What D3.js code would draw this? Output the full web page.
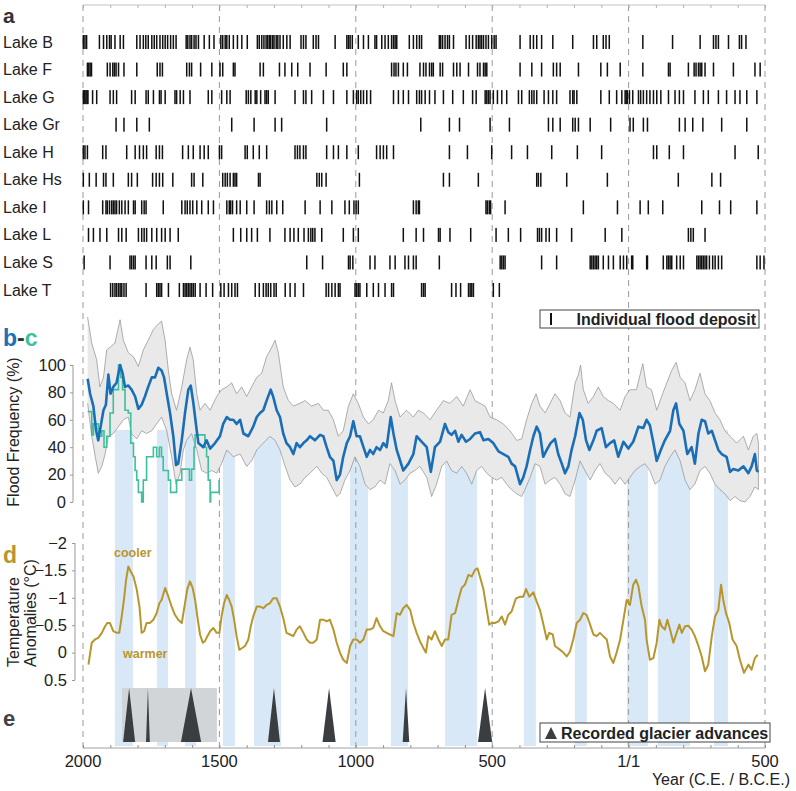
<!DOCTYPE html>
<html>
<head>
<meta charset="utf-8">
<script src="https://cdn.jsdelivr.net/npm/d3@7"></script>
<style>
  body { margin: 0; background: #fff; }
  svg { font-family: "Liberation Sans", Arial, sans-serif; }
</style>
</head>
<body>
<svg></svg>
<script>
// ---- data ----
var lakes = ["Lake B", "Lake F", "Lake G", "Lake Gr", "Lake H", "Lake Hs", "Lake I", "Lake L", "Lake S", "Lake T"];

var lakeB = [1999,1993,1987,1940,1925,1913,1903,1897,1883,1864,1852,1803,1791,1779,1770,1761,1748,1739,1730,1718,1708,1699,1690,1679,1669,1659,1622,1616,1608,1602,1593,1586,1577,1556,1537,1520,1495,1488,1479,1473,1464,1449,1434,1418,1398,1361,1354,1345,1337,1329,1323,1317,1312,1305,1300,1292,1286,1278,1266,1253,1241,1201,1192,1183,1156,1146,1137,1076,1033,1027,1021,1013,991,972,954,930,924,905,893,881,869,862,856,850,804,789,777,767,759,694,689,682,673,664,657,642,596,584,572,559,551,545,539,532,523,514,502,493,486,398,361,349,337,319,278,205,129,117,93,83,71,-52,-161,-262,-311,-320,-329,-366,-406,-414,-430];
var lakeF = [1984,1979,1974,1969,1911,1901,1891,1885,1879,1870,1850,1803,1728,1718,1709,1620,1610,1602,1569,1528,1498,1488,1449,1443,1351,1339,1280,1260,1235,1213,1168,1109,1046,1033,869,860,853,844,826,811,765,752,743,730,722,716,691,682,642,630,618,587,554,545,532,526,520,398,355,319,276,264,251,184,102,78,31,-52,-146,-152,-219,-240,-247,-256,-262,-268,-280,-311,-384,-463,-482];
var lakeG = [1999,1996,1993,1989,1985,1982,1965,1950,1901,1889,1877,1822,1809,1769,1761,1742,1720,1714,1699,1663,1657,1644,1632,1608,1541,1528,1492,1473,1461,1402,1394,1385,1369,1363,1349,1333,1327,1321,1296,1223,1192,1183,1162,1119,1082,1033,1009,997,991,982,972,960,946,862,844,826,807,777,767,759,746,730,710,679,645,606,572,559,526,520,514,508,496,481,465,447,404,392,364,355,347,337,310,294,278,264,215,205,200,190,102,71,44,25,13,9,5,-3,-15,-36,-44,-54,-66,-78,-91,-103,-118,-146,-170,-186,-201,-243,-274,-292,-329,-359,-390,-408,-433,-470];
var lakeGr = [1879,1850,1803,1757,1455,1373,1296,1272,1107,762,657,620,508,437,294,278,251,205,196,184,141,66,-5,-17,-54,-69,-186,-207,-235,-272,-341,-433];
var lakeH = [1999,1993,1984,1928,1916,1840,1809,1793,1779,1767,1732,1720,1709,1635,1614,1596,1571,1556,1541,1500,1492,1406,1398,1376,1354,1327,1223,1214,1205,1192,1183,1107,1082,1064,1033,991,924,911,899,887,862,657,591,502,429,371,282,188,99,-91,-103,-149,-201,-390,-475];
var lakeHs = [1999,1977,1952,1925,1916,1889,1834,1822,1801,1745,1732,1720,1708,1671,1602,1593,1561,1488,1479,1471,1461,1449,1443,1437,1357,1351,1143,1134,1125,1109,987,679,657,551,337,331,322,227,78,-182,-305,-337];
var lakeI = [1999,1980,1928,1916,1911,1903,1895,1889,1883,1877,1867,1858,1846,1834,1815,1809,1785,1776,1769,1706,1638,1626,1618,1608,1598,1583,1565,1541,1522,1473,1464,1459,1452,1437,1424,1400,1373,1327,1317,1308,1290,1268,1186,1131,1088,1040,1024,1007,999,991,789,779,771,767,523,518,511,506,453,166,41,-42,-72,-125,-268,-333,-374,-470];
var lakeL = [1980,1962,1938,1913,1870,1858,1842,1797,1785,1776,1767,1748,1730,1712,1699,1681,1651,1449,1422,1400,1382,1361,1315,1260,1241,1227,1211,1190,1174,1165,1158,1150,1125,1046,1009,991,826,779,752,697,691,655,579,486,441,396,334,327,319,303,291,264,209,86,25,-219,-228,-237,-280];
var lakeS = [1996,1901,1828,1822,1815,1809,1769,1748,1732,1691,1681,1605,1180,1122,1027,1021,1011,948,930,875,856,820,807,789,779,694,471,465,459,453,319,264,141,135,129,123,117,111,93,74,56,31,19,7,-11,-15,-66,-69,-127,-140,-146,-152,-158,-176,-189,-201,-250,-256,-262,-268,-274,-280,-286,-296,-308,-317,-329,-341,-470,-482,-496];
var lakeT = [1899,1891,1883,1877,1870,1864,1858,1850,1842,1769,1730,1724,1718,1712,1687,1647,1632,1626,1620,1614,1608,1602,1596,1589,1571,1549,1525,1495,1483,1467,1455,1443,1434,1369,1354,1339,1329,1321,1312,1300,1292,1259,1241,1223,1192,1109,1100,1088,1076,1064,1058,1003,997,991,985,960,936,917,893,869,862,759,752,746,649,633,616,587,581,575,569,496,474];
var lakeYears = [lakeB, lakeF, lakeG, lakeGr, lakeH, lakeHs, lakeI, lakeL, lakeS, lakeT];

// flood frequency (%) : [year, value]
var floodMean = [[1983,90],[1974,79],[1962,70],[1952,52],[1944,45],[1938,52],[1925,67],[1916,71],[1907,93],[1899,79],[1889,84],[1877,87],[1864,100],[1855,94],[1846,84],[1834,85],[1822,82],[1809,77],[1797,68],[1785,71],[1773,77],[1761,84],[1748,91],[1736,91],[1724,98],[1712,96],[1703,91],[1693,79],[1681,65],[1669,48],[1659,27],[1651,28],[1638,45],[1626,65],[1614,82],[1605,85],[1596,73],[1583,52],[1577,43],[1559,40],[1547,45],[1534,39],[1516,43],[1498,48],[1486,57],[1473,62],[1461,60],[1449,60],[1437,57],[1424,60],[1412,50],[1394,48],[1376,55],[1363,62],[1351,65],[1339,67],[1327,74],[1312,82],[1303,77],[1290,67],[1278,62],[1266,50],[1254,43],[1241,40],[1229,35],[1217,43],[1205,40],[1192,43],[1180,45],[1168,48],[1150,45],[1131,49],[1119,48],[1107,40],[1095,33],[1082,30],[1070,16],[1058,20],[1046,33],[1033,43],[1021,48],[1009,59],[997,48],[985,48],[972,40],[960,33],[948,38],[936,35],[924,40],[911,38],[899,43],[887,40],[872,62],[862,50],[850,38],[826,23],[807,28],[789,35],[777,48],[759,44],[740,40],[725,22],[710,40],[691,44],[673,57],[661,51],[649,49],[636,52],[624,44],[612,49],[596,44],[581,46],[563,50],[545,51],[532,45],[514,46],[496,43],[477,37],[459,35],[441,33],[429,28],[416,26],[398,13],[386,18],[374,26],[361,38],[349,48],[337,55],[325,50],[313,33],[300,38],[286,43],[270,46],[258,35],[245,28],[233,21],[221,26],[209,38],[196,48],[180,65],[168,60],[156,45],[144,38],[129,45],[117,52],[99,54],[83,40],[68,43],[53,45],[38,33],[19,44],[1,39],[-17,44],[-36,55],[-54,54],[-66,60],[-78,56],[-91,43],[-103,30],[-118,38],[-133,45],[-152,52],[-164,67],[-174,72],[-186,57],[-201,52],[-215,35],[-231,40],[-243,28],[-256,50],[-268,60],[-280,59],[-292,50],[-305,52],[-317,45],[-329,38],[-341,35],[-359,33],[-372,22],[-384,24],[-402,23],[-421,26],[-439,21],[-451,26],[-463,35],[-470,23],[-476,22]];
var floodUpper = [[1983,135],[1968,116],[1950,104],[1938,84],[1925,91],[1913,111],[1901,113],[1883,116],[1864,133],[1852,118],[1834,109],[1815,106],[1797,99],[1779,111],[1761,118],[1742,126],[1724,130],[1712,132],[1699,118],[1687,96],[1675,79],[1657,67],[1638,84],[1620,104],[1608,113],[1596,104],[1583,79],[1571,67],[1553,72],[1534,67],[1510,77],[1492,82],[1473,84],[1455,87],[1437,79],[1418,84],[1400,77],[1382,84],[1363,91],[1345,94],[1327,106],[1308,113],[1296,118],[1284,109],[1266,84],[1247,74],[1229,70],[1205,72],[1186,74],[1162,70],[1137,72],[1119,67],[1101,67],[1082,60],[1064,48],[1046,52],[1027,70],[1009,79],[991,72],[972,62],[954,57],[936,60],[917,67],[899,65],[881,74],[869,87],[856,74],[838,62],[814,67],[789,62],[771,67],[752,65],[728,60],[704,67],[679,74],[655,72],[630,77],[606,70],[581,82],[563,74],[545,72],[526,70],[508,62],[484,60],[459,57],[435,52],[410,45],[392,46],[374,60],[355,72],[339,79],[325,70],[306,65],[288,72],[270,79],[251,74],[233,65],[215,62],[196,87],[184,93],[176,100],[166,82],[148,72],[129,77],[111,84],[93,77],[74,74],[56,72],[31,67],[13,77],[-5,82],[-29,82],[-52,101],[-66,84],[-84,82],[-103,67],[-121,77],[-140,87],[-158,96],[-174,102],[-189,91],[-207,87],[-225,74],[-243,82],[-262,94],[-280,79],[-298,74],[-317,65],[-335,60],[-353,52],[-372,48],[-396,43],[-421,48],[-439,38],[-457,48],[-470,50],[-476,43]];
var floodLower = [[1983,72],[1968,48],[1955,33],[1944,21],[1931,26],[1919,35],[1907,48],[1889,50],[1870,55],[1852,60],[1834,62],[1822,50],[1803,46],[1785,52],[1767,50],[1748,52],[1730,57],[1712,62],[1693,52],[1675,33],[1659,13],[1644,21],[1632,38],[1620,45],[1602,50],[1583,38],[1565,23],[1547,21],[1528,23],[1510,21],[1492,28],[1473,38],[1449,33],[1424,35],[1400,26],[1382,30],[1363,38],[1339,43],[1315,48],[1296,45],[1278,38],[1259,26],[1241,16],[1223,11],[1205,13],[1186,18],[1168,21],[1143,26],[1125,21],[1107,18],[1088,11],[1070,4],[1058,6],[1040,16],[1021,23],[1003,33],[985,26],[966,13],[948,9],[930,11],[911,16],[893,13],[875,28],[856,23],[838,13],[820,16],[801,21],[783,23],[765,26],[740,18],[722,4],[704,13],[685,26],[667,30],[649,23],[630,21],[612,26],[594,21],[575,13],[557,23],[539,26],[520,21],[502,18],[484,16],[465,18],[447,13],[429,9],[410,6],[392,4],[380,9],[361,18],[343,28],[325,26],[306,13],[288,16],[270,18],[251,13],[233,6],[215,4],[196,16],[178,30],[160,23],[141,16],[123,23],[105,28],[86,21],[68,18],[50,13],[31,18],[13,13],[-5,18],[-23,23],[-42,26],[-60,28],[-78,23],[-97,13],[-115,16],[-133,26],[-152,33],[-170,38],[-189,30],[-207,16],[-225,9],[-243,13],[-262,23],[-280,26],[-298,21],[-317,13],[-335,9],[-353,6],[-372,1],[-390,4],[-408,1],[-427,0],[-445,4],[-463,11],[-476,9]];
var floodLakes = [[1983,66],[1974,66],[1968,49],[1962,57],[1950,57],[1944,48],[1931,52],[1923,40],[1913,48],[1901,65],[1889,82],[1877,82],[1870,100],[1862,91],[1855,82],[1846,67],[1834,65],[1825,43],[1815,33],[1809,23],[1803,16],[1797,7],[1789,7],[1785,0],[1779,16],[1767,33],[1748,33],[1742,40],[1730,33],[1720,40],[1712,33],[1706,23],[1693,23],[1687,16],[1679,7],[1663,7],[1657,16],[1644,16],[1638,24],[1614,24],[1610,16],[1602,24],[1593,40],[1589,49],[1559,49],[1553,40],[1547,33],[1541,16],[1534,0],[1532,7],[1504,7],[1501,16]];

// temperature anomalies (degC) : [year, value]
var tempAnom = [[1980,0.22],[1968,-0.18],[1956,-0.24],[1944,-0.27],[1931,-0.36],[1919,-0.48],[1911,-0.54],[1901,-0.54],[1889,-0.39],[1877,-0.36],[1867,-0.36],[1858,-0.66],[1850,-0.96],[1842,-1.33],[1834,-1.57],[1825,-1.48],[1815,-1.39],[1803,-1.15],[1793,-0.84],[1785,-0.36],[1776,-0.39],[1767,-0.54],[1755,-0.54],[1742,-0.6],[1730,-0.72],[1720,-0.9],[1712,-0.96],[1699,-1.18],[1687,-1.02],[1675,-0.84],[1663,-0.69],[1651,-0.6],[1638,-0.54],[1626,-0.9],[1618,-1.15],[1608,-1.3],[1598,-1.18],[1589,-0.96],[1581,-0.66],[1571,-0.33],[1561,-0.18],[1553,-0.21],[1544,-0.3],[1534,-0.39],[1522,-0.45],[1510,-0.36],[1500,-0.36],[1492,-0.66],[1483,-0.9],[1473,-1.05],[1464,-0.96],[1455,-0.84],[1446,-0.6],[1437,-0.3],[1427,-0.05],[1418,-0.08],[1406,-0.12],[1394,-0.24],[1385,-0.48],[1376,-0.66],[1363,-0.84],[1351,-0.84],[1339,-0.81],[1327,-0.87],[1315,-0.9],[1303,-0.99],[1290,-0.99],[1278,-0.84],[1266,-0.63],[1254,-0.36],[1241,-0.33],[1229,-0.3],[1217,-0.42],[1205,-0.48],[1192,-0.36],[1180,-0.24],[1168,-0.18],[1156,-0.18],[1143,-0.24],[1131,-0.6],[1119,-0.6],[1107,-0.57],[1095,-0.6],[1082,-0.42],[1070,-0.18],[1058,0.0],[1046,0.13],[1033,0.19],[1021,-0.12],[1009,-0.24],[997,-0.24],[985,-0.18],[972,-0.24],[960,-0.42],[948,-0.42],[936,-0.45],[924,-0.63],[911,-0.48],[899,-0.39],[887,-0.36],[875,-0.33],[862,-0.3],[850,-0.72],[838,-0.69],[826,-0.81],[814,-0.87],[801,-0.78],[789,-0.54],[777,-0.36],[765,-0.21],[752,-0.08],[743,0.0],[734,-0.3],[722,-0.24],[710,-0.39],[697,-0.24],[685,-0.12],[673,-0.24],[661,-0.24],[649,-0.69],[636,-0.72],[624,-0.96],[612,-1.18],[600,-1.24],[587,-1.42],[575,-1.39],[563,-1.51],[554,-1.54],[545,-1.39],[532,-1.15],[520,-0.78],[511,-0.51],[502,-0.54],[490,-0.54],[477,-0.57],[465,-0.66],[453,-0.51],[441,-0.69],[429,-0.75],[413,-0.99],[398,-1.02],[386,-1.02],[376,-1.16],[364,-1.02],[349,-1.1],[337,-0.93],[325,-0.78],[312,-0.51],[300,-0.24],[291,-0.36],[278,-0.33],[270,-0.12],[251,-0.05],[239,0.0],[227,0.07],[215,-0.02],[203,-0.24],[190,-0.54],[178,-0.6],[166,-0.72],[154,-0.69],[141,-0.51],[129,-0.33],[117,-0.3],[105,-0.36],[93,-0.3],[80,-0.24],[68,0.07],[56,0.19],[44,0.0],[31,-0.24],[19,-0.6],[7,-0.96],[-5,-0.87],[-17,-1.24],[-27,-1.33],[-36,-1.21],[-48,-0.84],[-60,-0.6],[-66,-0.24],[-72,-0.05],[-78,0.13],[-91,0.1],[-103,-0.18],[-113,-0.6],[-121,-0.48],[-133,-0.42],[-142,-0.6],[-152,-0.42],[-164,-0.18],[-176,-0.36],[-186,-0.51],[-195,-0.36],[-207,-0.48],[-219,-0.49],[-231,-0.42],[-243,-0.3],[-256,-0.12],[-268,0.07],[-280,0.34],[-292,0.22],[-305,-0.3],[-317,-0.66],[-329,-0.78],[-339,-1.24],[-347,-0.96],[-357,-0.72],[-369,-0.54],[-381,-0.24],[-396,-0.12],[-408,0.13],[-423,0.37],[-439,0.22],[-451,0.31],[-463,0.1],[-473,0.04]];

// shaded flood periods [from, to]
var floodPeriods = [[1883,1817],[1729,1688],[1626,1586],[1487,1443],[1373,1274],[1021,955],[871,809],[673,556],[384,340],[197,153],[6,-71],[-107,-225],[-313,-364]];

// glacier advances: [centre year, base width in years]
var glacierAdv = [[1831,44],[1762,14],[1604,74],[1300,44],[1098,48],[816,24],[526,52]];
var glacierBox = [1857, 1509];

var majorTicks = [2000, 1500, 1000, 500, 0, -500];
var majorLabels = ["2000", "1500", "1000", "500", "1/1", "500"];
var floodTicks = [0, 20, 40, 60, 80, 100];
var tempTicks = [-2, -1.5, -1, -0.5, 0, 0.5];

// ---- layout ----
var W = 796, H = 791;
var svg = d3.select("svg").attr("width", W).attr("height", H);

var x = d3.scaleLinear().domain([2000, -500]).range([83, 765]);
var yLake = d3.scalePoint().domain(lakes).range([42, 290]);
var yFlood = d3.scaleLinear().domain([0, 100]).range([502, 365]);
var yTemp = d3.scaleLinear().domain([-2, 0.5]).range([543, 680]);

var axisTop = 5, axisBottom = 748;
var minorTicks = d3.range(2000, -501, -100);

// blue shaded periods (behind everything)
svg.append("g").selectAll("rect")
    .data(floodPeriods)
    .enter().append("rect")
    .attr("x", d => x(d[0]))
    .attr("width", d => x(d[1]) - x(d[0]))
    .attr("y", 430)
    .attr("height", 746 - 430)
    .attr("fill", "#d8e8f7");

// glacier grey box
svg.append("rect")
    .attr("x", x(glacierBox[0]))
    .attr("width", x(glacierBox[1]) - x(glacierBox[0]))
    .attr("y", 688).attr("height", 742 - 688)
    .attr("fill", "#d2d5d8");

// dashed verticals
svg.append("g").selectAll("line")
    .data(majorTicks)
    .enter().append("line")
    .attr("x1", d => x(d)).attr("x2", d => x(d))
    .attr("y1", axisTop).attr("y2", axisBottom)
    .attr("stroke", "#9a9a9a")
    .attr("stroke-width", 1)
    .attr("stroke-dasharray", "6,5");

// top axis
var topAxis = svg.append("g").attr("transform", `translate(0,${axisTop})`)
    .call(d3.axisBottom(x).tickValues(minorTicks).tickSize(3).tickFormat(""));
topAxis.select(".domain").attr("stroke", "#c4c4c4").attr("stroke-width", 1.2).attr("d", `M${x(2000)},0H${x(-500)}`);
topAxis.selectAll(".tick line").attr("stroke", "#b0b0b0");

// bottom axis
var botAxis = svg.append("g").attr("transform", `translate(0,${axisBottom})`)
    .call(d3.axisTop(x).tickValues(minorTicks).tickSize(3).tickFormat(""));
botAxis.select(".domain").attr("stroke", "#a0a0a0").attr("d", `M${x(2000)},0H${x(-500)}`);
botAxis.selectAll(".tick line").attr("stroke", "#909090");
svg.append("g").selectAll("text")
    .data(majorTicks)
    .enter().append("text")
    .attr("x", d => x(d))
    .attr("y", 767)
    .attr("text-anchor", "middle")
    .attr("font-size", 16.5)
    .attr("fill", "#222")
    .text((d, i) => majorLabels[i]);
svg.append("text")
    .attr("x", 790).attr("y", 785)
    .attr("text-anchor", "end")
    .attr("font-size", 16)
    .attr("fill", "#222")
    .text("Year (C.E. / B.C.E.)");

// ---- panel a: flood deposits ----
svg.append("text").attr("x", 3).attr("y", 23)
    .attr("font-size", 21).attr("font-weight", "bold").attr("fill", "#333").text("a");

lakes.forEach(function(lake, i) {
    svg.append("text")
        .attr("x", 3).attr("y", yLake(lake) + 5.5)
        .attr("font-size", 16)
        .attr("fill", "#222")
        .text(lake);
    svg.append("g").selectAll("rect")
        .data(lakeYears[i])
        .enter().append("rect")
        .attr("x", d => x(d) - 0.7)
        .attr("width", 1.5)
        .attr("y", yLake(lake) - 7)
        .attr("height", 14)
        .attr("fill", "#111");
});

// legend for a
svg.append("rect").attr("x", 540).attr("y", 310).attr("width", 219).attr("height", 18)
    .attr("fill", "#fff").attr("stroke", "#444").attr("stroke-width", 1);
svg.append("rect").attr("x", 550).attr("y", 313).attr("width", 2).attr("height", 12).attr("fill", "#111");
svg.append("text").attr("x", 756).attr("y", 325).attr("text-anchor", "end")
    .attr("font-size", 16).attr("font-weight", "bold").attr("fill", "#222")
    .text("Individual flood deposit");

// ---- panel b-c: flood frequency ----
var lab = svg.append("text").attr("x", 3).attr("y", 346)
    .attr("font-size", 23).attr("font-weight", "bold");
lab.append("tspan").attr("fill", "#1f6fb5").text("b");
lab.append("tspan").attr("fill", "#333").text("-");
lab.append("tspan").attr("fill", "#3fbf9a").text("c");

var envelope = floodUpper.concat(floodLower.slice().reverse());
svg.append("path")
    .datum(envelope)
    .attr("d", d3.line().x(d => x(d[0])).y(d => yFlood(d[1])))
    .attr("fill", "#e9e9e9")
    .attr("stroke", "#8e8e8e")
    .attr("stroke-width", 0.7);

svg.append("path")
    .datum(floodLakes)
    .attr("d", d3.line().x(d => x(d[0])).y(d => yFlood(d[1])).curve(d3.curveStepAfter))
    .attr("fill", "none")
    .attr("stroke", "#3fbf9a")
    .attr("stroke-width", 1.6);

svg.append("path")
    .datum(floodMean)
    .attr("d", d3.line().x(d => x(d[0])).y(d => yFlood(d[1])))
    .attr("fill", "none")
    .attr("stroke", "#1a6eb8")
    .attr("stroke-width", 2.6)
    .attr("stroke-linejoin", "round");

var fAxis = svg.append("g").attr("transform", "translate(73,0)")
    .call(d3.axisLeft(yFlood).tickValues(floodTicks).tickSize(3).tickPadding(4));
fAxis.select(".domain").attr("stroke", "#999").attr("d", `M0,${yFlood(100)}V${yFlood(0)}`);
fAxis.selectAll(".tick line").attr("stroke", "#999");
fAxis.selectAll("text").attr("font-size", 16.5).attr("fill", "#222")
    .attr("font-family", "Liberation Sans, Arial, sans-serif");

svg.append("text")
    .attr("transform", "translate(19,432) rotate(-90)")
    .attr("text-anchor", "middle")
    .attr("font-size", 16).attr("fill", "#222")
    .text("Flood Frequency (%)");

// ---- panel d: temperature ----
svg.append("text").attr("x", 3).attr("y", 563)
    .attr("font-size", 23).attr("font-weight", "bold").attr("fill", "#b8962e").text("d");

svg.append("path")
    .datum(tempAnom)
    .attr("d", d3.line().x(d => x(d[0])).y(d => yTemp(d[1])))
    .attr("fill", "none")
    .attr("stroke", "#b8962e")
    .attr("stroke-width", 2)
    .attr("stroke-linejoin", "round");

var tAxis = svg.append("g").attr("transform", "translate(75,0)")
    .call(d3.axisLeft(yTemp).tickValues(tempTicks).tickSize(3).tickPadding(5)
        .tickFormat(d => d3.format("")(d)));
tAxis.select(".domain").attr("stroke", "#999").attr("d", `M0,${yTemp(-2)}V${yTemp(0.5)}`);
tAxis.selectAll(".tick line").attr("stroke", "#999");
tAxis.selectAll("text").attr("font-size", 16.5).attr("fill", "#222")
    .attr("font-family", "Liberation Sans, Arial, sans-serif");

svg.append("text")
    .attr("transform", "translate(19,622) rotate(-90)")
    .attr("text-anchor", "middle")
    .attr("font-size", 16).attr("fill", "#222")
    .text("Temperature");
svg.append("text")
    .attr("transform", "translate(36,613) rotate(-90)")
    .attr("text-anchor", "middle")
    .attr("font-size", 16).attr("fill", "#222")
    .text("Anomalies (°C)");

svg.append("text").attr("x", 114).attr("y", 557)
    .attr("font-size", 12.5).attr("font-weight", "bold").attr("fill", "#b8962e").text("cooler");
svg.append("text").attr("x", 123).attr("y", 658)
    .attr("font-size", 12.5).attr("font-weight", "bold").attr("fill", "#b8962e").text("warmer");

// ---- panel e: glacier advances ----
svg.append("text").attr("x", 3).attr("y", 726)
    .attr("font-size", 22).attr("font-weight", "bold").attr("fill", "#444").text("e");

svg.append("g").selectAll("path")
    .data(glacierAdv)
    .enter().append("path")
    .attr("d", function(d) {
        var c = x(d[0]), l = x(d[0] + d[1] / 2), r = x(d[0] - d[1] / 2);
        return `M${l},742L${c},688L${r},742Z`;
    })
    .attr("fill", "#3b3e41");

svg.append("rect").attr("x", 540).attr("y", 723).attr("width", 230).attr("height", 19)
    .attr("fill", "#fff").attr("stroke", "#444").attr("stroke-width", 1);
svg.append("path").attr("d", "M545,739L551,727L557,739Z").attr("fill", "#3b3e41");
svg.append("text").attr("x", 561).attr("y", 738.5)
    .attr("font-size", 16).attr("font-weight", "bold").attr("fill", "#222")
    .text("Recorded glacier advances");
</script>
</body>
</html>
